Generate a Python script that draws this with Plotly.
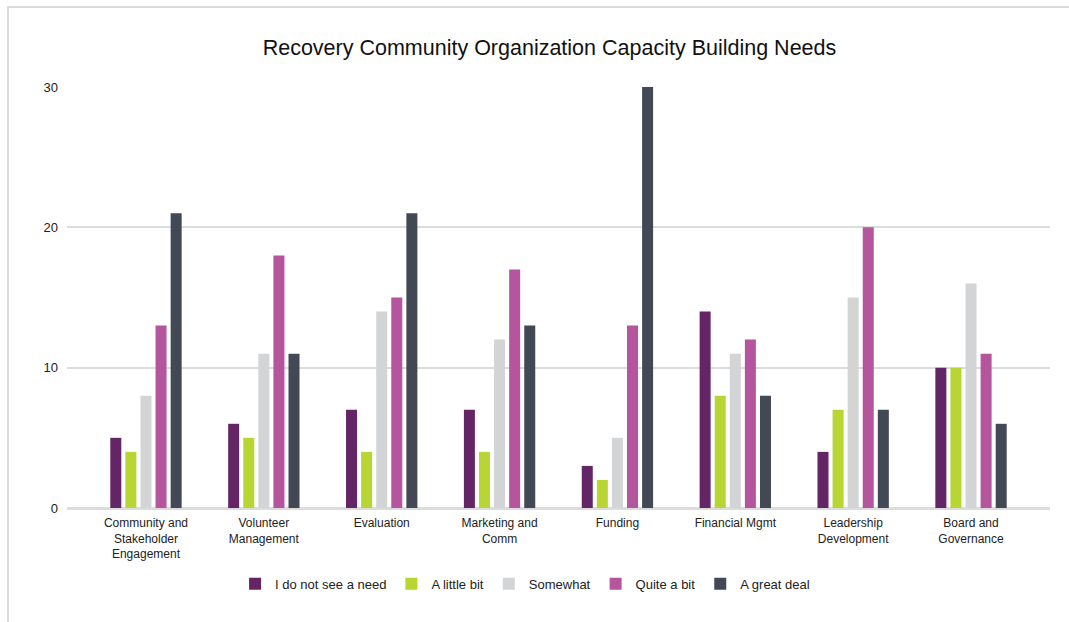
import plotly.graph_objects as go

categories = [
    "Community and<br>Stakeholder<br>Engagement",
    "Volunteer<br>Management",
    "Evaluation",
    "Marketing and<br>Comm",
    "Funding",
    "Financial Mgmt",
    "Leadership<br>Development",
    "Board and<br>Governance",
]

no_need = [5, 6, 7, 7, 3, 14, 4, 10]
little_bit = [4, 5, 4, 4, 2, 8, 7, 10]
somewhat = [8, 11, 14, 12, 5, 11, 15, 16]
quite_a_bit = [13, 18, 15, 17, 13, 12, 20, 11]
great_deal = [21, 11, 21, 13, 30, 8, 7, 6]

series_names = ["I do not see a need", "A little bit", "Somewhat", "Quite a bit", "A great deal"]
series_values = [no_need, little_bit, somewhat, quite_a_bit, great_deal]
series_colors = ["#642566", "#b8d534", "#d3d4d6", "#b4559e", "#424955"]

font_family = "Liberation Sans, Arial, sans-serif"

fig = go.Figure()
for name, vals, color in zip(series_names, series_values, series_colors):
    fig.add_trace(go.Bar(
        x=list(range(len(categories))),
        y=vals,
        name=name,
        marker=dict(color=color, line=dict(width=0)),
    ))

fig.update_layout(
    width=1069,
    height=622,
    margin=dict(l=67, r=19, t=87, b=114),
    paper_bgcolor="white",
    plot_bgcolor="white",
    barmode="group",
    bargap=0.36,
    bargroupgap=0.27,
    font=dict(family=font_family, color="#222222", size=12),
    title=dict(
        text="Recovery Community Organization Capacity Building Needs",
        x=0.514, xanchor="center",
        y=1 - 47 / 622, yanchor="middle",
        font=dict(size=21.5, color="#111111", family=font_family),
    ),
    xaxis=dict(
        tickmode="array",
        tickvals=list(range(len(categories))),
        ticktext=categories,
        range=[-0.67, 7.67],
        showgrid=False,
        showline=False,
        zeroline=False,
        ticks="",
        ticklabelstandoff=6,
        tickfont=dict(size=12, color="#222222"),
    ),
    yaxis=dict(
        range=[0, 30],
        tickvals=[0, 10, 20, 30],
        showgrid=True,
        gridcolor="#dcdcdc",
        gridwidth=2,
        zeroline=True,
        zerolinecolor="#dcdcdc",
        zerolinewidth=3,
        showline=False,
        ticks="",
        ticklabelstandoff=8,
        tickfont=dict(size=13, color="#222222"),
    ),
    legend=dict(
        orientation="h",
        x=0.466, xanchor="center",
        y=-0.18, yanchor="middle",
        font=dict(size=13, color="#222222"),
        traceorder="normal",
        itemwidth=30,
    ),
    showlegend=True,
    shapes=[
        dict(
            type="rect", xref="paper", yref="paper",
            x0=(8 - 67) / 983, x1=1.2,
            y0=-0.4, y1=(508 - 7) / 421,
            line=dict(color="#dadada", width=2),
            fillcolor="rgba(0,0,0,0)",
            layer="below",
        )
    ],
)

fig.write_html("out.html")
